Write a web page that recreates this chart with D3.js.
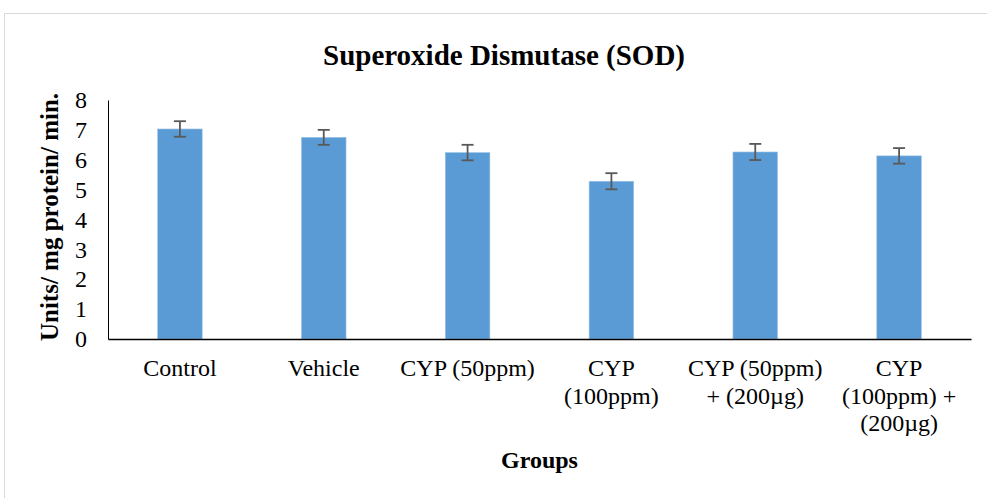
<!DOCTYPE html>
<html>
<head>
<meta charset="utf-8">
<script src="https://cdn.jsdelivr.net/npm/d3@7/dist/d3.min.js"></script>
<style>
  html, body { margin: 0; padding: 0; background: #fff; }
  svg { display: block; }
  text { font-family: "Liberation Serif", "Times New Roman", serif; fill: #000; }
</style>
</head>
<body>
<svg id="chart" width="987" height="498"></svg>
<script>
// ---- data ----
const categories = ["Control", "Vehicle", "CYP (50ppm)", "CYP (100ppm)", "CYP (50ppm) + (200µg)", "CYP (100ppm) + (200µg)"];
const tickLines = [["Control"], ["Vehicle"], ["CYP (50ppm)"], ["CYP", "(100ppm)"], ["CYP (50ppm)", "+ (200µg)"], ["CYP", "(100ppm) +", "(200µg)"]];
const sodValues = [7.03, 6.75, 6.24, 5.28, 6.26, 6.13];
const sodErrors = [0.26, 0.25, 0.26, 0.27, 0.27, 0.26];
const yTicks = [0, 1, 2, 3, 4, 5, 6, 7, 8];
const titleText = "Superoxide Dismutase (SOD)";
const yLabel = "Units/ mg protein/ min.";
const xLabel = "Groups";

// ---- layout ----
const svg = d3.select("#chart");
const W = 987, H = 498;
const pLeft = 108, pRight = 971, pTop = 100, pBottom = 339;

svg.append("rect").attr("width", W).attr("height", H).attr("fill", "#fff");
svg.append("path")
  .attr("d", `M4.5,${H} L4.5,13.5 L${W},13.5`)
  .attr("fill", "none").attr("stroke", "#d9d9d9").attr("stroke-width", 1);

const x = d3.scaleBand().domain(categories).range([pLeft, pRight]).paddingInner(0.69).paddingOuter(0.345);
const y = d3.scaleLinear().domain([0, 8]).range([pBottom, pTop]);

// y axis
const yAxis = d3.axisLeft(y).tickValues(yTicks).tickFormat(d3.format("d")).tickSize(0).tickPadding(21).tickSizeOuter(0);
const gy = svg.append("g").attr("transform", `translate(${pLeft},0)`).call(yAxis);
gy.select(".domain").attr("stroke", "#000").attr("stroke-width", 1);
gy.selectAll("text").style("font-family", "Liberation Serif").style("font-size", "24px").attr("fill", "#000");

// bars
svg.append("g").selectAll("rect").data(categories).join("rect")
  .attr("x", d => x(d))
  .attr("y", (d, i) => y(sodValues[i]))
  .attr("width", x.bandwidth())
  .attr("height", (d, i) => y(0) - y(sodValues[i]))
  .attr("fill", "#5b9bd5")
  .attr("stroke", "#9dc3e6").attr("stroke-width", 0.6);

// error bars
const cap = 6;
const eg = svg.append("g").attr("stroke", "#595959").attr("stroke-width", 1.8).attr("fill", "none");
categories.forEach((c, i) => {
  const cx = x(c) + x.bandwidth() / 2;
  const y1 = y(sodValues[i] + sodErrors[i]);
  const y2 = y(sodValues[i] - sodErrors[i]);
  eg.append("line").attr("x1", cx).attr("x2", cx).attr("y1", y1).attr("y2", y2);
  eg.append("line").attr("x1", cx - cap).attr("x2", cx + cap).attr("y1", y1).attr("y2", y1);
  eg.append("line").attr("x1", cx - cap).attr("x2", cx + cap).attr("y1", y2).attr("y2", y2);
});

// x axis
const xAxis = d3.axisBottom(x).tickSize(0).tickSizeOuter(0).tickFormat("");
const gx = svg.append("g").attr("transform", `translate(0,${pBottom})`).call(xAxis);
gx.select(".domain").attr("stroke", "#000").attr("stroke-width", 1.6);

// x tick labels (wrapped)
const xl = svg.append("g");
categories.forEach((c, i) => {
  const cx = x(c) + x.bandwidth() / 2;
  const t = xl.append("text")
    .attr("x", cx).attr("y", 376)
    .attr("text-anchor", "middle")
    .style("font-size", "24px");
  tickLines[i].forEach((ln, j) => {
    t.append("tspan").attr("x", cx).attr("dy", j === 0 ? 0 : 27.5).text(ln);
  });
});

// title
svg.append("text").attr("x", 504).attr("y", 65).attr("text-anchor", "middle")
  .style("font-size", "29px").style("font-weight", "bold").text(titleText);

// x label
svg.append("text").attr("x", (pLeft + pRight) / 2).attr("y", 468).attr("text-anchor", "middle")
  .style("font-size", "24px").style("font-weight", "bold").text(xLabel);

// y label
svg.append("text").attr("transform", `translate(58,217) rotate(-90)`)
  .attr("text-anchor", "middle")
  .style("font-size", "25px").style("font-weight", "bold").text(yLabel);
</script>
</body>
</html>
